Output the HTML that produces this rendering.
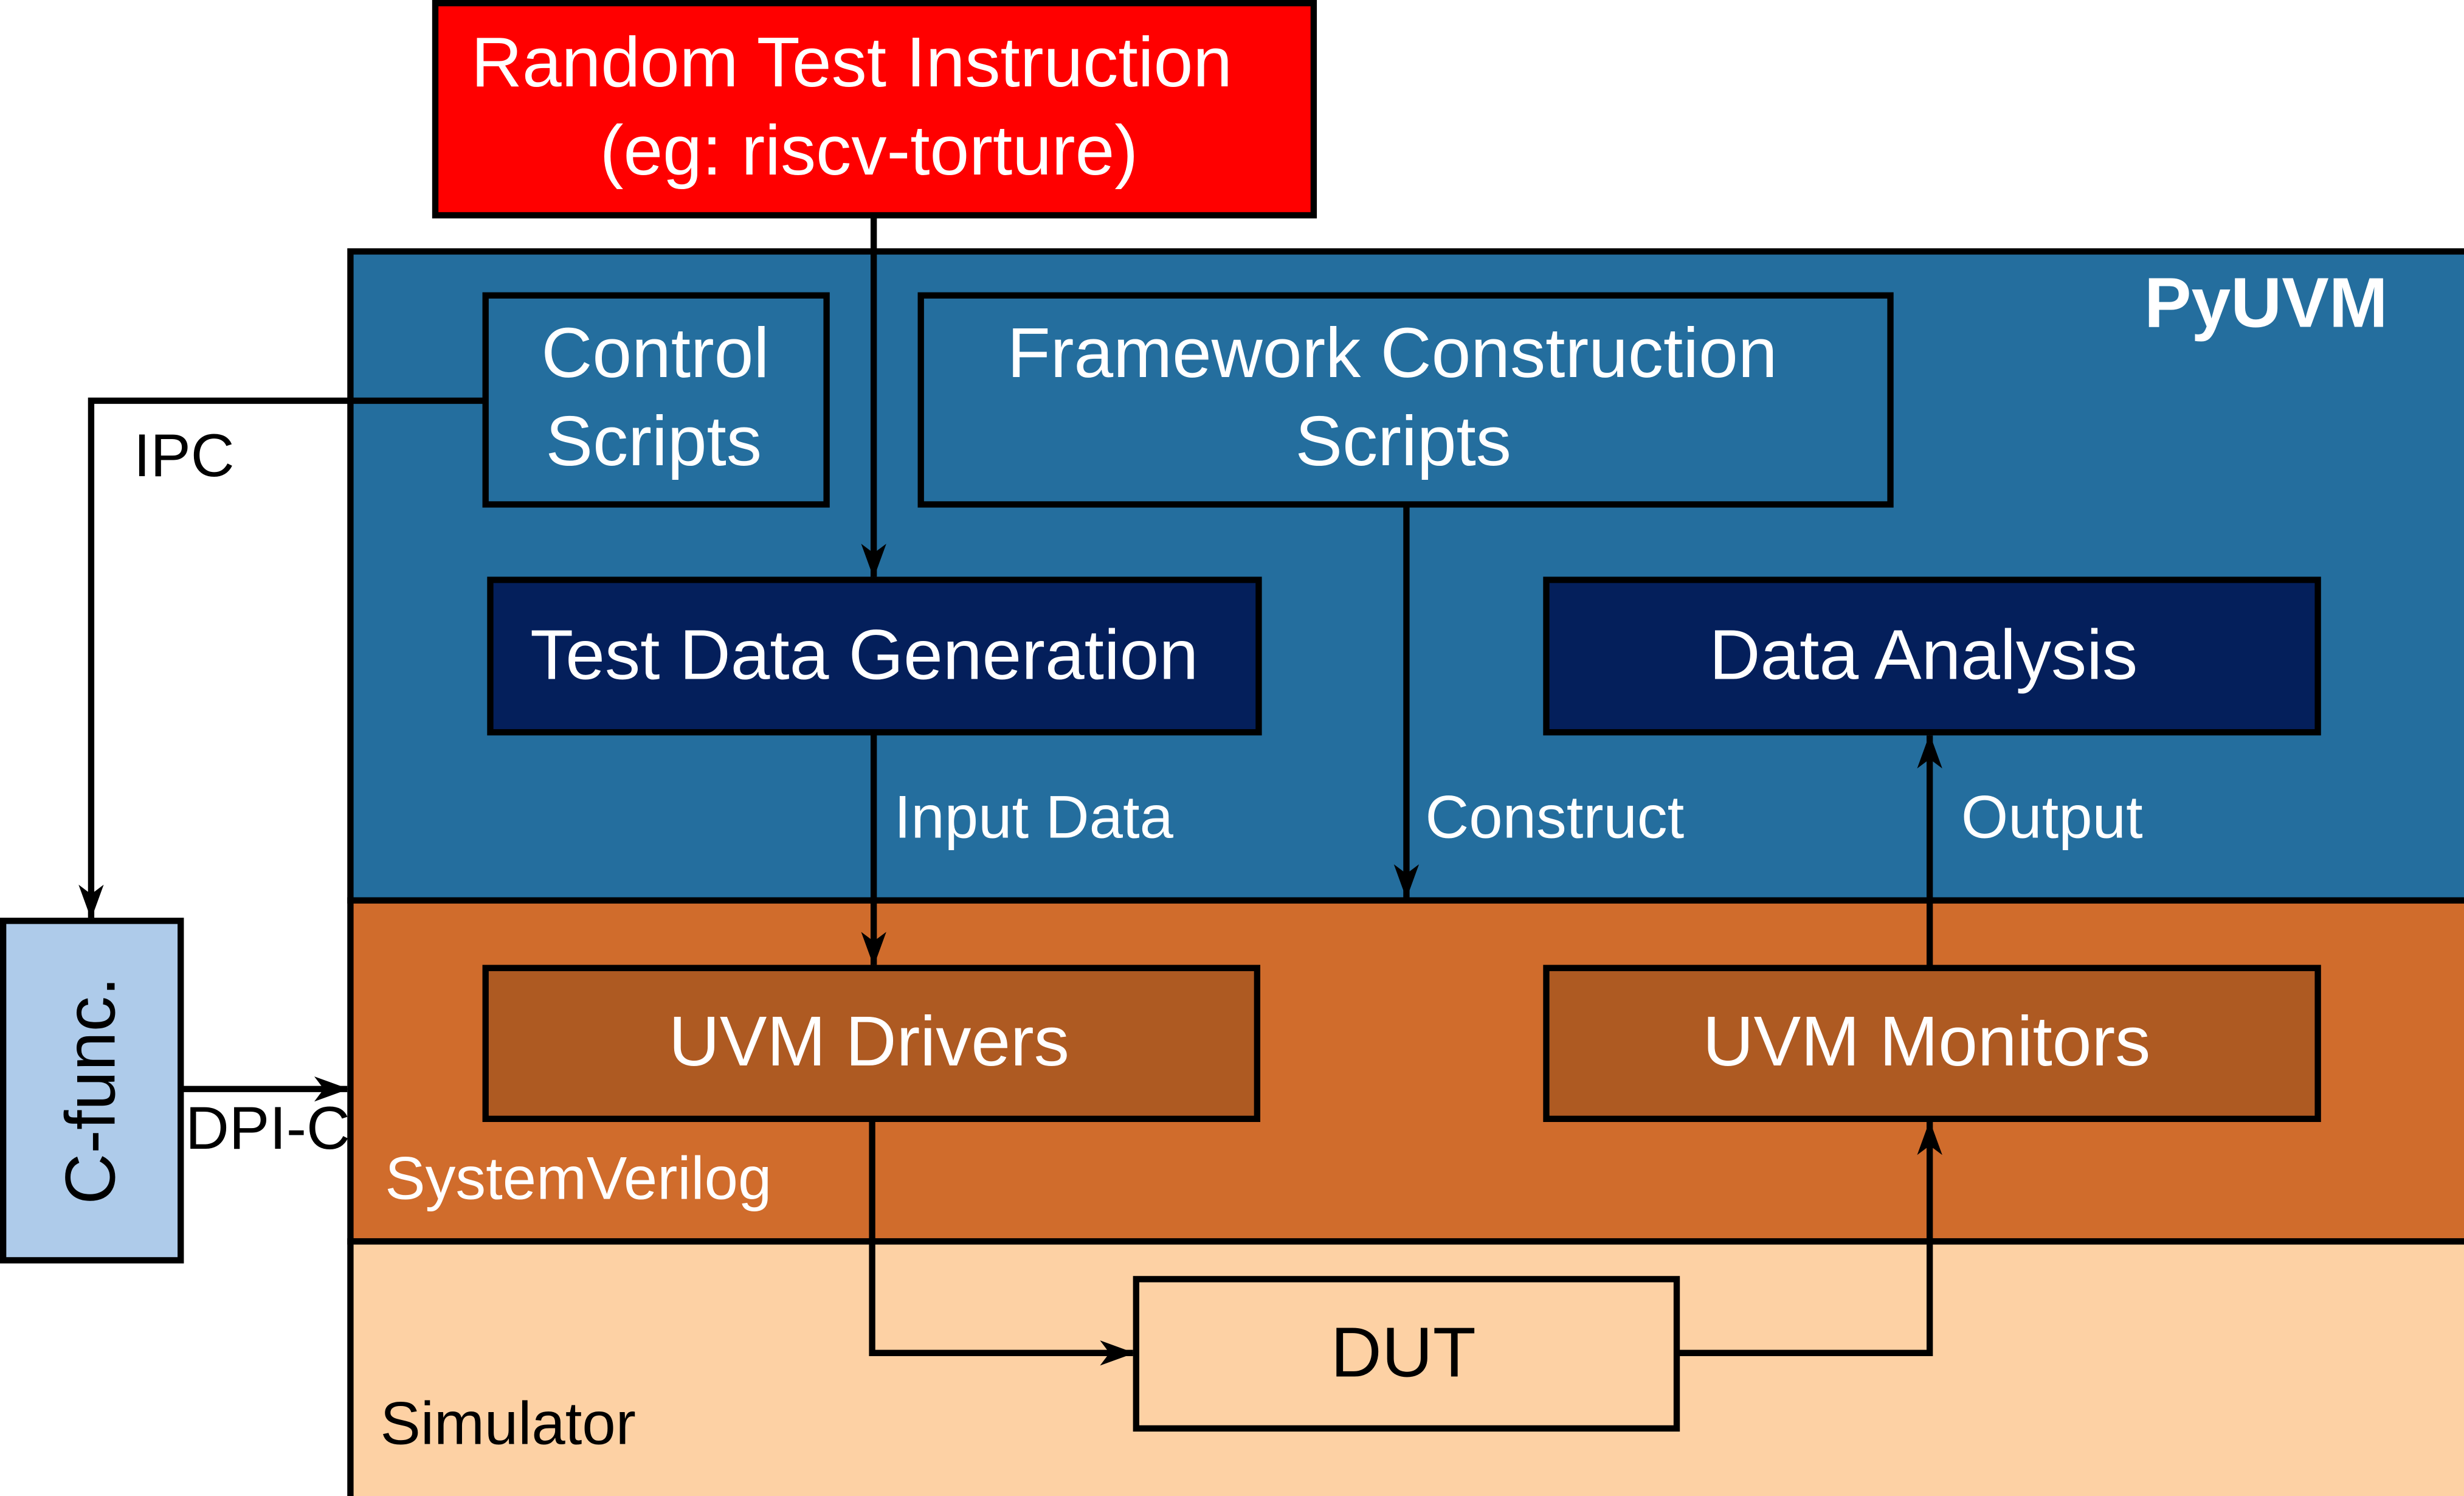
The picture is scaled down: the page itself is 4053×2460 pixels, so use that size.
<!DOCTYPE html>
<html><head><style>html,body{margin:0;padding:0;background:#fff}svg{display:block}text{font-family:"Liberation Sans",sans-serif}</style></head>
<body>
<svg width="4053" height="2460" viewBox="0 0 1568 952" preserveAspectRatio="none" xmlns="http://www.w3.org/2000/svg">
<defs>
<marker id="a" viewBox="0 0 22 16" refX="21" refY="8" markerWidth="22" markerHeight="16" markerUnits="userSpaceOnUse" orient="auto" overflow="visible">
<path d="M0,0 L22,8 L0,16 L6,8 Z" fill="#000"/>
</marker>
</defs>
<g stroke="#000" stroke-width="4">
<rect x="223" y="160" width="1347" height="413" fill="#246e9e"/>
<rect x="223" y="573" width="1347" height="217" fill="#d06c2c"/>
<rect x="223" y="790" width="1347" height="164" fill="#fdd1a4"/>
<rect x="277" y="2" width="559" height="135" fill="#ff0000"/>
<rect x="309" y="188" width="217" height="133" fill="#246e9e"/>
<rect x="586" y="188" width="617" height="133" fill="#246e9e"/>
<rect x="312" y="369" width="489" height="97" fill="#041f5b"/>
<rect x="984" y="369" width="491" height="97" fill="#041f5b"/>
<rect x="309" y="616" width="491" height="96" fill="#ae5a22"/>
<rect x="984" y="616" width="491" height="96" fill="#ae5a22"/>
<rect x="723" y="814" width="344" height="95" fill="#fdd1a4"/>
<rect x="2" y="586" width="113" height="216" fill="#aecbea"/>
<g fill="none">
<path d="M556 137 V367" marker-end="url(#a)"/>
<path d="M309 255 H58 V584" marker-end="url(#a)"/>
<path d="M556 466 V614" marker-end="url(#a)"/>
<path d="M895 321 V571" marker-end="url(#a)"/>
<path d="M1228 616 V468" marker-end="url(#a)"/>
<path d="M115 693 H221" marker-end="url(#a)"/>
<path d="M555 712 V861 H721" marker-end="url(#a)"/>
<path d="M1067 861 H1228 V714" marker-end="url(#a)"/>
</g>
</g>
<g fill="#fff" font-size="45" text-anchor="middle">
<text x="542" y="55">Random Test Instruction</text>
<text x="553" y="111">(eg: riscv-torture)</text>
<text x="417" y="240">Control</text>
<text x="416" y="296">Scripts</text>
<text x="886" y="240">Framework Construction</text>
<text x="893" y="296">Scripts</text>
<text x="550" y="432">Test Data Generation</text>
<text x="1224" y="432">Data Analysis</text>
<text x="553" y="678">UVM Drivers</text>
<text x="1226" y="678">UVM Monitors</text>
<text x="1442" y="208" font-weight="bold">PyUVM</text>
</g>
<g font-size="38.5" fill="#fff">
<text x="569" y="533">Input Data</text>
<text x="907" y="533">Construct</text>
<text x="1248" y="533">Output</text>
<text x="245" y="763">SystemVerilog</text>
</g>
<g font-size="38.5" fill="#000">
<text x="242" y="919">Simulator</text>
<text x="85" y="303">IPC</text>
<text x="118" y="731">DPI-C</text>
<text x="893" y="876" font-size="45" text-anchor="middle">DUT</text>
<text x="0" y="0" font-size="45" text-anchor="middle" transform="translate(73,694) rotate(-90)">C-func.</text>
</g>
</svg>
</body></html>
